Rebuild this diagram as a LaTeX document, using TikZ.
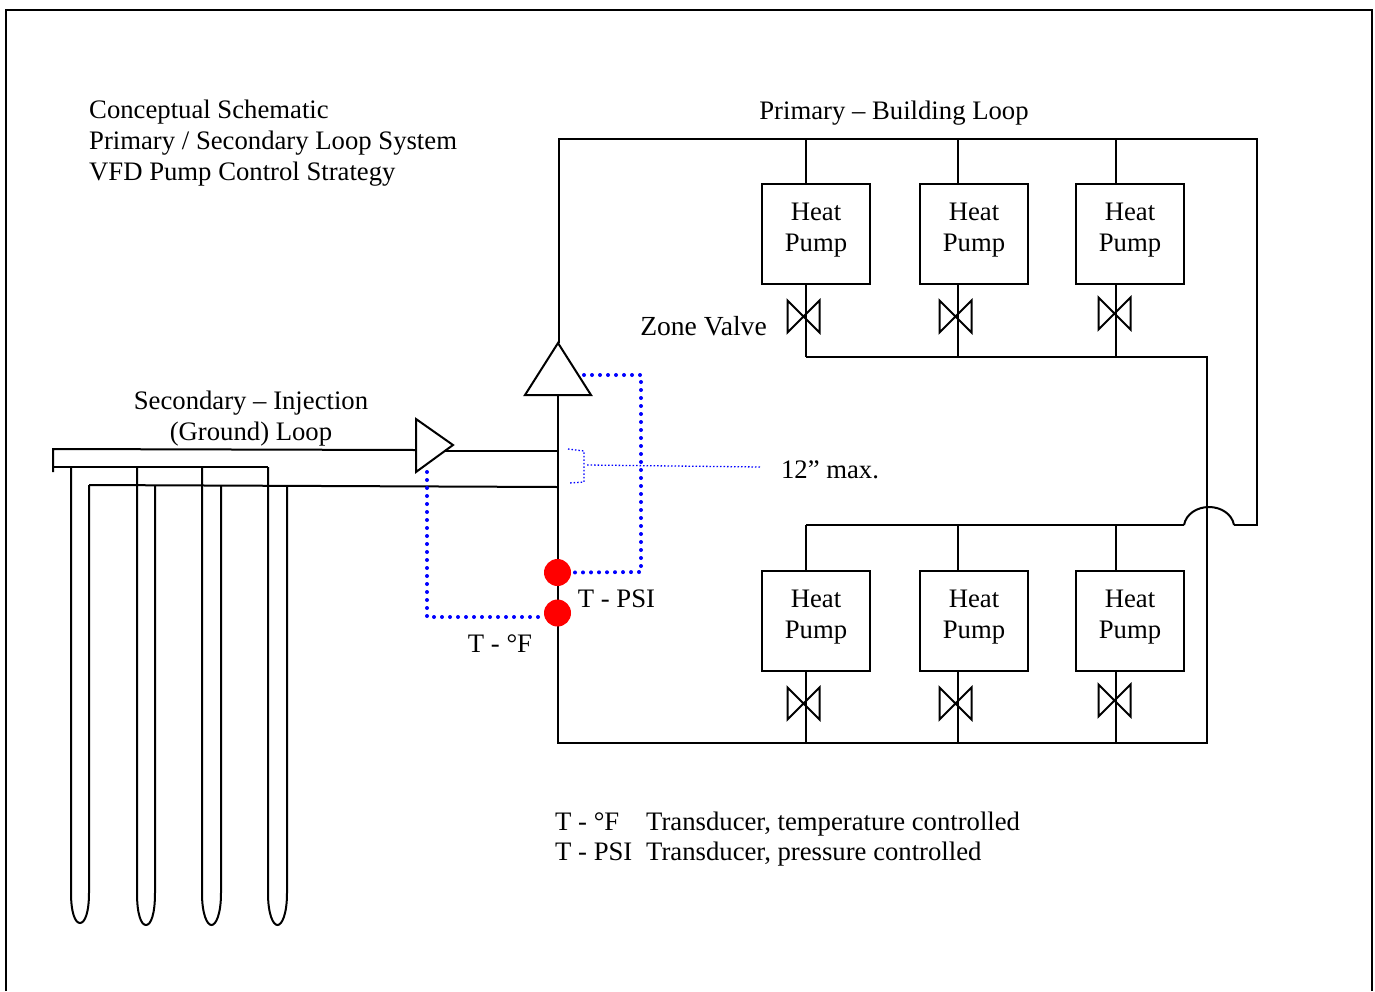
\documentclass[tikz,border=0pt]{standalone}
\usepackage{fontspec}
\setmainfont{Liberation Serif}
\newcommand{\tx}{\fontsize{26.7}{31}\selectfont}
\newcommand{\hp}{Heat\\Pump\rule[-14pt]{0pt}{14pt}}
\newcommand{\valve}[1]{\draw[pipe] ($(#1)+(-16,-16)$) -- ($(#1)+(16,16)$) -- ($(#1)+(16,-16)$) -- ($(#1)+(-16,16)$) -- cycle;}
\usetikzlibrary{calc}
\tikzset{
   pipe/.style={black,line width=2pt,line join=miter},
   heatpump/.style={draw,line width=2pt,minimum width=108pt,minimum height=100pt,inner sep=0pt,align=center,font=\tx},
   label/.style={inner sep=0pt,align=left,font=\tx},
   signal/.style={blue,line width=4pt,line cap=round,dash pattern=on 0pt off 8pt},
   thinsignal/.style={blue,line width=1.3pt,dash pattern=on 1.5pt off 2pt},
   sensor/.style={circle,fill=red,inner sep=0pt,minimum size=27pt}
}

\begin{document}
\begin{tikzpicture}[x=1pt,y=-1pt]
   \useasboundingbox (0,0) rectangle (1375,991);
   \clip (0,0) rectangle (1375,991);
   % frame
   \draw[pipe] (6,991) -- (6,10) -- (1372,10) -- (1372,991);

   % texts
   \node[label,anchor=north west] (title) at (89,100) {Conceptual Schematic\\Primary / Secondary Loop System\\VFD Pump Control Strategy};
   \node[label] (primary) at (894,113) {Primary -- Building Loop};
   \node[label,align=center] (secondary) at (251,419) {Secondary -- Injection\\(Ground) Loop};
   \node[label,font=\fontsize{27.6}{31}\selectfont] (zone) at (703.5,326) {Zone Valve};
   \node[label] (max) at (830,470) {12” max.};
   \node[label] (psi) at (616.5,599) {T - PSI};
   \node[label] (temp) at (500,644) {T - °F};
   \node[label,anchor=west] (legtemp) at (555,822) {T - °F};
   \node[label,anchor=west] (legpsi) at (555,852) {T - PSI};
   \node[label,anchor=west] (desctemp) at (646,824) {Transducer, temperature controlled};
   \node[label,anchor=west] (descpsi) at (646,854) {Transducer, pressure controlled};

   % heat pumps
   \node[heatpump] (hp1) at (816,234) {\hp};
   \node[heatpump] (hp2) at (974,234) {\hp};
   \node[heatpump] (hp3) at (1130,234) {\hp};
   \node[heatpump] (hp4) at (816,621) {\hp};
   \node[heatpump] (hp5) at (974,621) {\hp};
   \node[heatpump] (hp6) at (1130,621) {\hp};

   % pipe corners
   \coordinate (tl) at (559,139);
   \coordinate (tr) at (1257,139);
   \coordinate (t1) at (806,139);
   \coordinate (t2) at (958,139);
   \coordinate (t3) at (1116,139);
   \coordinate (m1) at (806,357);
   \coordinate (m2) at (958,357);
   \coordinate (m3) at (1116,357);
   \coordinate (mr) at (1207,357);
   \coordinate (l1) at (806,525);
   \coordinate (l2) at (958,525);
   \coordinate (l3) at (1116,525);
   \coordinate (bumpa) at (1184,525);
   \coordinate (bumpb) at (1234,525);
   \coordinate (lr) at (1257,525);
   \coordinate (b1) at (806,743);
   \coordinate (b2) at (958,743);
   \coordinate (b3) at (1116,743);
   \coordinate (bl) at (558,743);
   \coordinate (br) at (1207,743);

   % primary pump
   \coordinate (ptop) at (558,343);
   \coordinate (pleft) at (525,395);
   \coordinate (pright) at (591,395);
   \coordinate (pbase) at (558,395);
   \draw[pipe] (ptop) -- (pleft) -- (pright) -- cycle;

   % primary loop
   \draw[pipe] (559,343) -- (tl) -- (tr) -- (lr) -- (bumpb);
   \draw[pipe] (bumpb) .. controls (1232,514) and (1221,507) .. (1209,507) .. controls (1197,507) and (1186,514) .. (bumpa);
   \draw[pipe] (bumpa) -- (l1);
   \draw[pipe] (pbase) -- (bl) -- (br) -- (mr) -- (m1);
   \draw[pipe] (t1) -- (t1 |- hp1.north);
   \draw[pipe] (t2) -- (t2 |- hp2.north);
   \draw[pipe] (t3) -- (t3 |- hp3.north);
   \draw[pipe] (m1) -- (m1 |- hp1.south);
   \draw[pipe] (m2) -- (m2 |- hp2.south);
   \draw[pipe] (m3) -- (m3 |- hp3.south);
   \draw[pipe] (l1) -- (l1 |- hp4.north);
   \draw[pipe] (l2) -- (l2 |- hp5.north);
   \draw[pipe] (l3) -- (l3 |- hp6.north);
   \draw[pipe] (b1) -- (b1 |- hp4.south);
   \draw[pipe] (b2) -- (b2 |- hp5.south);
   \draw[pipe] (b3) -- (b3 |- hp6.south);

   % zone valves
   \coordinate (v1) at (803.5,316.5);
   \coordinate (v2) at (955.5,316.5);
   \coordinate (v3) at (1114.5,313.5);
   \coordinate (v4) at (803.5,703.5);
   \coordinate (v5) at (955.5,703.5);
   \coordinate (v6) at (1114.5,700.5);
   \valve{v1}
   \valve{v2}
   \valve{v3}
   \valve{v4}
   \valve{v5}
   \valve{v6}

   % secondary pump
   \coordinate (sa) at (416,419);
   \coordinate (sb) at (416,472);
   \coordinate (sc) at (453,445);
   \draw[pipe] (sa) -- (sb) -- (sc) -- cycle;

   % ground loop
   \coordinate (g1) at (53,449);
   \coordinate (g2) at (53,472);
   \coordinate (g3) at (53,467);
   \coordinate (g4) at (268,467);
   \coordinate (g5) at (89,485);
   \draw[pipe] (g2) -- (g1) -- (416,450);
   \draw[pipe] (445,451) -- (558,451);
   \draw[pipe] (g3) -- (g4);
   \draw[pipe] (g5) -- (558,487);
   \draw[pipe] (71,467) -- (71,893) .. controls (71,912) and (75,923) .. (80,923) .. controls (85,923) and (89,912) .. (89,893) -- (g5);
   \draw[pipe] (137,467) -- (137,893) .. controls (137,914) and (141,925) .. (146,925) .. controls (151,925) and (155,914) .. (155,893) -- (155,485);
   \draw[pipe] (202,467) -- (202,893) .. controls (202,914) and (207,925) .. (211.5,925) .. controls (216,925) and (221,914) .. (221,893) -- (221,485);
   \draw[pipe] (268,467) -- (268,893) .. controls (268,914) and (273,925) .. (277.5,925) .. controls (282,925) and (287,914) .. (287,893) -- (287,485);

   % sensors
   \node[sensor] (spsi) at (557.5,572.5) {};
   \node[sensor] (stemp) at (557.5,613) {};

   % control signals
   \coordinate (c1) at (584,375);
   \coordinate (c2) at (641,375);
   \coordinate (c3) at (641,572);
   \coordinate (c4) at (427,472);
   \coordinate (c5) at (427,617);
   \draw[signal] (c1) -- (c2) -- (c3) -- (spsi.east);
   \draw[signal] (c4) -- (c5) -- (stemp.west |- c5);

   % 12 inch dimension
   \coordinate (d1) at (568,449);
   \coordinate (d2) at (584,451);
   \coordinate (d3) at (584,482);
   \coordinate (d4) at (569,483);
   \coordinate (d5) at (587,465);
   \coordinate (d6) at (761,467);
   \draw[thinsignal] (d1) -- (d2) -- (d3) -- (d4);
   \draw[thinsignal] (d5) -- (d6);
\end{tikzpicture}
\end{document}
